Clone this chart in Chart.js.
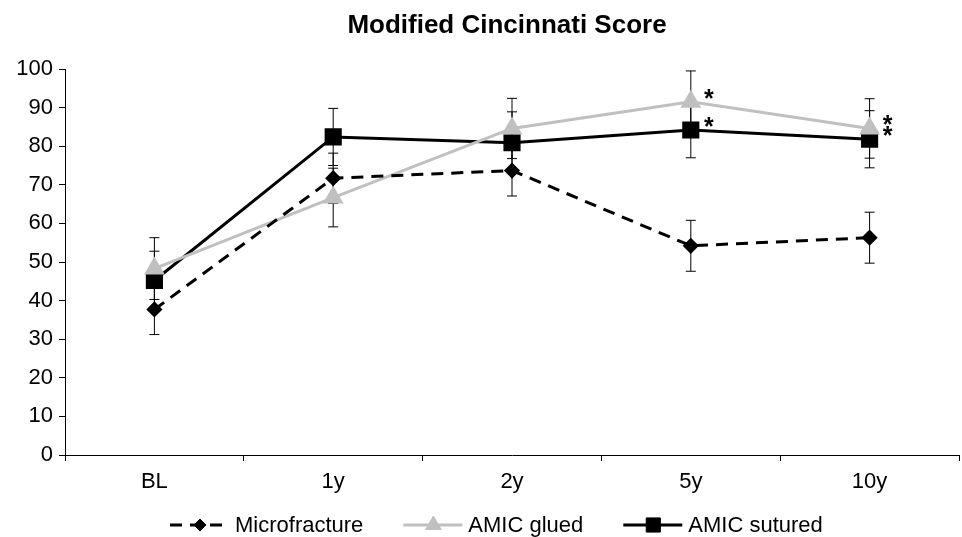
<!DOCTYPE html>
<html>
<head>
<meta charset="utf-8">
<script src="https://cdn.jsdelivr.net/npm/chart.js@4"></script>
<style>
  body { margin: 0; background: #fff; overflow: hidden; }
  #wrap { width: 962px; height: 537px; overflow: hidden; }
</style>
</head>
<body>
<div id="wrap"><canvas id="scoreChart" width="972" height="537"></canvas></div>
<script>
// data
const categories = ['BL', '1y', '2y', '5y', '10y'];
const microfracture = [37.7, 71.7, 73.7, 54.2, 56.3];
const microfractureErr = [6.5, 6.5, 6.6, 6.6, 6.6];
const amicGlued = [48.3, 66.7, 84.6, 91.5, 84.6];
const amicGluedErr = [8.0, 7.6, 7.8, 8.0, 7.7];
const amicSutured = [45.2, 82.4, 80.9, 84.2, 81.8];
const amicSuturedErr = [7.6, 7.4, 8.0, 7.2, 7.4];
const gluedStars = [false, false, false, true, true];
const suturedStars = [false, false, false, true, true];
const yTicks = [0, 10, 20, 30, 40, 50, 60, 70, 80, 90, 100];

const FONT = "'Liberation Sans', Arial, sans-serif";
const GREY = '#c0c0c0';

const errorBars = {
    id: 'errorBars',
    beforeDatasetsDraw(chart) {
        const ctx = chart.ctx;
        const y = chart.scales.y;
        ctx.save();
        ctx.strokeStyle = '#000';
        ctx.lineWidth = 1;
        chart.data.datasets.forEach((ds, i) => {
            const meta = chart.getDatasetMeta(i);
            meta.data.forEach((pt, j) => {
                const top = y.getPixelForValue(ds.data[j] + ds.errors[j]);
                const bot = y.getPixelForValue(ds.data[j] - ds.errors[j]);
                ctx.beginPath();
                ctx.moveTo(pt.x, top); ctx.lineTo(pt.x, bot);
                ctx.moveTo(pt.x - 5, top); ctx.lineTo(pt.x + 5, top);
                ctx.moveTo(pt.x - 5, bot); ctx.lineTo(pt.x + 5, bot);
                ctx.stroke();
            });
        });
        ctx.restore();
    }
};

const stars = {
    id: 'stars',
    afterDatasetsDraw(chart) {
        const ctx = chart.ctx;
        ctx.save();
        ctx.fillStyle = '#000';
        ctx.font = 'bold 25px ' + FONT;
        ctx.textAlign = 'center';
        ctx.textBaseline = 'alphabetic';
        chart.data.datasets.forEach((ds, i) => {
            if (!ds.stars) return;
            chart.getDatasetMeta(i).data.forEach((pt, j) => {
                if (ds.stars[j]) ctx.fillText('*', pt.x + 18, pt.y + 5);
            });
        });
        ctx.restore();
    }
};

// title + legend drawn by hand so the legend shows line + marker
const titleLegend = {
    id: 'titleLegend',
    afterDraw(chart) {
        const ctx = chart.ctx;
        ctx.save();
        ctx.fillStyle = '#000';
        ctx.font = 'bold 26px ' + FONT;
        ctx.textAlign = 'center';
        ctx.textBaseline = 'middle';
        ctx.fillText('Modified Cincinnati Score', 507, 26);

        ctx.font = '22px ' + FONT;
        ctx.textAlign = 'left';
        let x = 170;
        const ly = 525;
        chart.data.datasets.forEach((ds) => {
            ctx.save();
            ctx.strokeStyle = ds.borderColor;
            ctx.lineWidth = ds.borderWidth;
            ctx.setLineDash(ds.borderDash || []);
            ctx.beginPath();
            ctx.moveTo(x, ly); ctx.lineTo(x + 59, ly);
            ctx.stroke();
            ctx.restore();
            ctx.fillStyle = ds.pointBackgroundColor;
            ctx.strokeStyle = ds.pointBackgroundColor;
            ctx.lineWidth = 1;
            Chart.helpers.drawPoint(ctx, {
                pointStyle: ds.pointStyle, radius: ds.pointRadius,
                borderWidth: 1, rotation: 0
            }, x + 30, ly);
            ctx.fillStyle = '#000';
            ctx.fillText(ds.label, x + 65, ly + 1);
            x += 65 + ctx.measureText(ds.label).width + 40;
        });
        ctx.restore();
    }
};

new Chart(document.getElementById('scoreChart'), {
    type: 'line',
    data: {
        labels: categories,
        datasets: [{
            label: 'Microfracture',
            data: microfracture,
            errors: microfractureErr,
            borderColor: '#000',
            borderWidth: 3,
            borderDash: [12, 8],
            pointStyle: 'rectRot',
            pointRadius: 6,
            pointBackgroundColor: '#000',
            pointBorderColor: '#000'
        }, {
            label: 'AMIC glued',
            data: amicGlued,
            errors: amicGluedErr,
            stars: gluedStars,
            borderColor: GREY,
            borderWidth: 3,
            pointStyle: 'triangle',
            pointRadius: 9,
            pointBackgroundColor: GREY,
            pointBorderColor: GREY
        }, {
            label: 'AMIC sutured',
            data: amicSutured,
            errors: amicSuturedErr,
            stars: suturedStars,
            borderColor: '#000',
            borderWidth: 3,
            pointStyle: 'rect',
            pointRadius: 10,
            pointBackgroundColor: '#000',
            pointBorderColor: '#000'
        }]
    },
    options: {
        responsive: false,
        animation: false,
        clip: false,
        elements: { line: { tension: 0 }, point: { hoverRadius: 8 } },
        layout: { padding: { top: 69, right: 4, left: 0, bottom: 0 } },
        plugins: {
            legend: { display: false },
            title: { display: false },
            tooltip: { enabled: false }
        },
        scales: {
            x: {
                offset: true,
                afterFit(s) { s.height = 82; },
                border: { color: '#000', width: 1 },
                grid: { offset: true, drawOnChartArea: false, tickLength: 6, color: '#000' },
                ticks: { color: '#000', padding: 8, font: { family: FONT, size: 22 } }
            },
            y: {
                min: 0, max: 100,
                afterFit(s) { s.width = 65; },
                afterBuildTicks(s) { s.ticks = yTicks.map(v => ({ value: v })); },
                border: { color: '#000', width: 1 },
                grid: { drawOnChartArea: false, tickLength: 6, color: '#000' },
                ticks: { color: '#000', padding: 6, font: { family: FONT, size: 22 } }
            }
        }
    },
    plugins: [errorBars, stars, titleLegend]
});
</script>
</body>
</html>
